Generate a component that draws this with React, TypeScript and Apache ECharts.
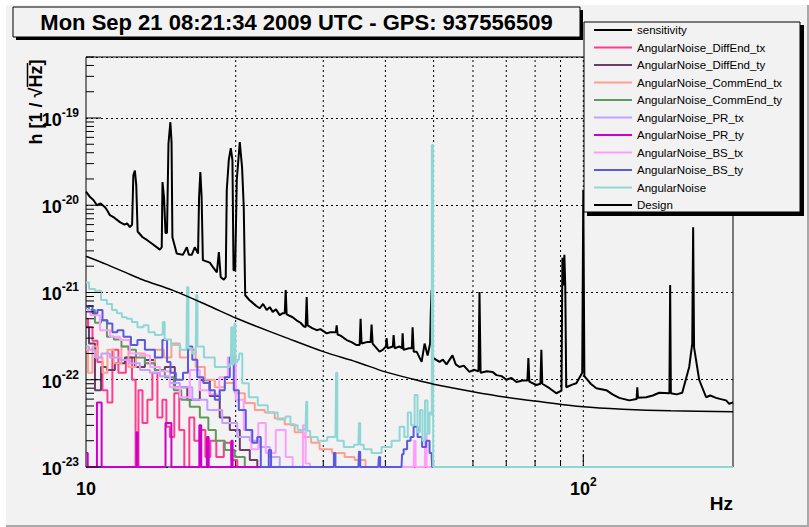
import React, { useEffect, useRef } from 'react';
import * as echarts from 'echarts';

const X_MIN = 10;
const X_MAX = 200;
const Y_MIN = 1e-23;
const Y_MAX = 5e-19;
// ECharts' log scale rounds below 1e-20, so values are plotted in units of 1e-23
const UNIT_EXP = -23;
const UNIT = 1e-23;

const TITLE = 'Mon Sep 21 08:21:34 2009 UTC - GPS: 937556509';
const Y_NAME = 'h [1 / √Hz]';
const X_NAME = 'Hz';

const xGridFreqs = [20, 30, 40, 50, 60, 70, 80, 90, 100];

// [frequency (Hz), strain (1/sqrt(Hz))]; 0 = empty bin
const sensitivity: [number, number][] = [
  [10.0, 1.43e-20], [10.19, 1.24e-20], [10.35, 1.15e-20], [10.52, 1.0e-20], [10.7, 1.05e-20], [10.92, 9.5e-21],
  [11.05, 8.6e-21], [11.17, 7.7e-21], [11.4, 7.2e-21], [11.7, 6.4e-21], [11.95, 6.0e-21], [12.1, 6.2e-21],
  [12.25, 5.6e-21], [12.38, 6.0e-21], [12.45, 2.2e-20], [12.54, 2.5e-20], [12.62, 1.7e-20], [12.7, 5.0e-21],
  [13.0, 4.3e-21], [13.26, 4.0e-21], [13.6, 3.6e-21], [14.08, 3.1e-21], [14.2, 3.3e-21], [14.25, 1.84e-20],
  [14.35, 1.24e-20], [14.45, 4.8e-21], [14.55, 4.8e-21], [14.65, 5.1e-20], [14.78, 8.95e-20], [14.86, 5.3e-20],
  [14.92, 4.3e-21], [15.22, 2.8e-21], [15.66, 2.7e-21], [15.95, 3.3e-21], [16.1, 2.7e-21], [16.32, 2.7e-21],
  [16.55, 3.3e-21], [16.8, 2.8e-21], [16.88, 1.24e-20], [16.98, 2.4e-20], [17.08, 1.24e-20], [17.18, 2.35e-21],
  [17.74, 2.2e-21], [18.0, 1.95e-21], [18.33, 1.7e-21], [18.5, 2.9e-21], [18.66, 1.5e-21], [18.93, 1.4e-21],
  [19.1, 1.5e-21], [19.19, 1.5e-20], [19.37, 3.3e-20], [19.55, 4.5e-20], [19.7, 3.3e-20], [19.8, 1.8e-21],
  [19.95, 1.8e-21], [20.1, 1.94e-20], [20.38, 5.3e-20], [20.6, 2.7e-20], [20.76, 9.5e-21], [20.9, 9.3e-22],
  [21.3, 8.2e-22], [21.65, 7.6e-22], [22.0, 7.0e-22], [22.36, 6.6e-22], [22.7, 7.4e-22], [23.09, 6.3e-22],
  [23.42, 6.8e-22], [23.74, 6.0e-22], [24.1, 6.4e-22], [24.52, 5.5e-22], [24.87, 5.8e-22], [25.1, 5.8e-22],
  [25.21, 1.07e-21], [25.32, 5.6e-22], [26.04, 5.2e-22], [26.5, 4.8e-22], [27.0, 4.5e-22], [27.4, 4.1e-22],
  [27.65, 4.0e-22], [27.78, 8.9e-22], [27.9, 4.2e-22], [28.5, 3.9e-22], [29.1, 3.7e-22], [29.6, 3.8e-22],
  [30.48, 3.4e-22], [31.0, 3.5e-22], [31.8, 3.5e-22], [31.92, 4.2e-22], [32.05, 3.3e-22], [32.5, 3.2e-22],
  [33.43, 2.85e-22], [34.2, 2.7e-22], [35.0, 2.5e-22], [35.5, 2.5e-22], [35.66, 5.0e-22], [35.82, 2.6e-22],
  [36.7, 2.7e-22], [37.35, 2.7e-22], [37.52, 4.3e-22], [37.7, 2.6e-22], [38.93, 2.1e-22], [39.5, 2.2e-22],
  [40.1, 2.4e-22], [40.22, 3.0e-22], [40.4, 2.3e-22], [41.4, 2.4e-22], [41.55, 3.25e-22], [41.75, 2.3e-22],
  [42.7, 2.4e-22], [43.2, 2.3e-22], [43.32, 3.4e-22], [43.5, 2.2e-22], [44.6, 2.3e-22], [45.2, 2.3e-22],
  [45.37, 4.0e-22], [45.6, 2.1e-22], [46.22, 2.1e-22], [47.3, 1.6e-22], [47.96, 2.6e-22], [48.63, 1.9e-22],
  [49.2, 2.6e-22], [49.35, 5.8e-22], [49.53, 1.06e-21], [49.7, 1.8e-22], [51.39, 1.6e-22], [52.2, 1.7e-22],
  [53.08, 1.5e-22], [54.57, 1.9e-22], [55.4, 1.5e-22], [56.36, 1.4e-22], [57.5, 1.45e-22], [59.03, 1.23e-22],
  [60.2, 1.3e-22], [61.55, 1.25e-22], [61.84, 1.01e-21], [62.15, 1.2e-22], [64.0, 1.25e-22], [65.67, 1.23e-22],
  [66.89, 1.13e-22], [68.5, 1.1e-22], [70.05, 1.0e-22], [71.7, 1.05e-22], [73.37, 9.4e-23], [75.5, 9.8e-23],
  [77.2, 9.8e-23], [77.55, 1.77e-22], [77.9, 9.5e-23], [80.47, 8.7e-23], [82.0, 9.0e-23], [82.35, 2.2e-22],
  [82.7, 9.0e-23], [85.5, 8.0e-23], [88.27, 7.0e-23], [90.4, 7.5e-23], [90.77, 2.5e-21], [91.2, 1.2e-21],
  [91.61, 2.7e-21], [92.0, 1.15e-21], [92.4, 8.2e-23], [95.0, 8.8e-23], [96.83, 9.1e-23], [99.5, 1.2e-22],
  [100.0, 1.5e-20], [100.5, 1.1e-22], [103.5, 9.0e-23], [106.2, 8.0e-23], [111.2, 7.6e-23], [114.5, 6.8e-23],
  [118.1, 6.2e-23], [123.7, 5.8e-23], [128.0, 6.0e-23], [128.4, 8.2e-23], [128.8, 6.2e-23], [133.8, 6.3e-23],
  [138.0, 6.6e-23], [142.1, 7.1e-23], [149.0, 7.0e-23], [149.5, 1.22e-21], [150.0, 7.0e-23], [154.0, 6.8e-23],
  [158.1, 7.1e-23], [163.3, 1.4e-22], [165.6, 2.6e-22], [166.3, 5.6e-21], [167.0, 2.35e-22], [171.0, 1.0e-22],
  [176.6, 6.3e-23], [180.0, 6.6e-23], [184.9, 6.2e-23], [189.0, 6.0e-23], [193.7, 5.8e-23], [196.5, 5.3e-23],
  [200.0, 5.5e-23],
];

const diffEndTx: [number, number][] = [
  [10.0, 5.0e-22], [10.19, 4.0e-22], [10.42, 2.8e-22], [10.67, 1.6e-22], [10.92, 7.6e-23], [11.17, 5.5e-23],
  [11.43, 2.2e-22], [11.81, 1.2e-22], [12.25, 1.8e-22], [12.5, 1.0e-22], [12.66, 0], [12.84, 7.6e-23],
  [13.14, 3.2e-23], [13.44, 5.9e-23], [13.76, 1.2e-22], [14.08, 3.7e-23], [14.41, 5.9e-23], [14.61, 2.9e-23],
  [14.88, 2.2e-23], [15.22, 7.0e-23], [15.58, 2.65e-23], [15.95, 0], [16.32, 3.7e-23], [16.7, 2.0e-23],
  [17.18, 2.65e-23], [17.58, 1.3e-23], [17.99, 2.0e-23], [18.58, 1.3e-23], [19.28, 1.9e-23], [19.92, 1.2e-23],
  [20.38, 0], [200.0, 0],
];

const diffEndTy: [number, number][] = [
  [10.0, 4.0e-22], [10.28, 2.6e-22], [10.57, 7.6e-23], [10.87, 1.4e-22], [11.17, 1.29e-22], [11.7, 1.55e-22],
  [12.25, 1.8e-22], [12.84, 1.4e-22], [13.44, 1.68e-22], [14.08, 1.29e-22], [14.74, 1.4e-22], [15.44, 8.2e-23],
  [16.55, 5.9e-23], [17.34, 9.9e-23], [18.15, 6.5e-23], [19.01, 3.7e-23], [19.92, 2.65e-23], [20.86, 1.57e-23],
  [21.85, 1.2e-23], [22.36, 0], [200.0, 0],
];

const commEndTx: [number, number][] = [
  [10.0, 2.2e-22], [10.19, 1.2e-22], [10.42, 2.4e-22], [10.67, 1.8e-22], [10.92, 1.2e-22], [11.17, 2.2e-22],
  [11.59, 1.55e-22], [11.98, 2.4e-22], [12.37, 1.4e-22], [12.84, 2.0e-22], [13.44, 1.55e-22], [14.08, 2.2e-22],
  [14.61, 1.8e-22], [15.09, 2.6e-22], [15.8, 1.8e-22], [16.3, 2.2e-22], [16.94, 1.4e-22], [17.74, 1.0e-22],
  [18.58, 8.2e-23], [19.46, 9.2e-23], [20.38, 7.0e-23], [21.35, 5.4e-23], [22.36, 4.5e-23], [23.42, 4.2e-23],
  [24.52, 3.6e-23], [25.68, 3.1e-23], [26.89, 2.5e-23], [27.9, 2.2e-23], [28.83, 1.9e-23], [30.19, 1.6e-23],
  [32.36, 1.45e-23], [33.9, 1.3e-23], [35.49, 1.2e-23], [37.5, 0], [200.0, 0],
];

const commEndTy: [number, number][] = [
  [10.0, 6.8e-22], [10.28, 6.3e-22], [10.57, 4.5e-22], [10.87, 4.8e-22], [11.17, 3.1e-22], [11.59, 2.9e-22],
  [11.98, 2.4e-22], [12.37, 2.2e-22], [12.84, 1.8e-22], [13.44, 1.55e-22], [14.08, 1.29e-22], [14.74, 1.07e-22],
  [15.3, 7.6e-23], [15.8, 5.9e-23], [16.55, 4.9e-23], [17.34, 3.7e-23], [17.91, 2.65e-23], [18.58, 2.0e-23],
  [19.46, 1.57e-23], [20.38, 1.3e-23], [21.35, 0], [200.0, 0],
];

const prTx: [number, number][] = [
  [10.0, 2.4e-22], [10.28, 2.2e-22], [10.57, 1.8e-22], [10.92, 2.0e-22], [11.43, 1.8e-22], [11.98, 1.68e-22],
  [12.54, 1.55e-22], [13.14, 1.29e-22], [13.76, 1.2e-22], [14.41, 1.1e-22], [15.09, 9.2e-23], [15.8, 8.2e-23],
  [16.94, 5.9e-23], [18.15, 4.5e-23], [19.46, 3.2e-23], [20.86, 2.2e-23], [21.85, 2.0e-23], [22.88, 1.7e-23],
  [23.96, 1.3e-23], [25.1, 0], [200.0, 0],
];

// each value holds until the next frequency
const prTy: [number, number][] = [
  [10.0, 1.45e-23], [10.08, 0], [10.52, 5.5e-23], [10.75, 0], [12.64, 2.5e-23], [12.7, 0], [14.45, 3.2e-23],
  [14.85, 0], [16.9, 3.0e-23], [17.05, 0], [17.5, 2.2e-23], [17.65, 0], [19.6, 2.0e-23], [19.72, 0], [200.0, 0],
];

const bsTx: [number, number][] = [
  [10.0, 6.3e-22], [10.42, 5.5e-22], [10.92, 3.7e-22], [11.43, 3.1e-22], [11.98, 2.85e-22], [12.54, 2.0e-22],
  [13.14, 1.9e-22], [13.76, 1.4e-22], [14.41, 1.25e-22], [15.09, 8.2e-23], [15.8, 6.3e-23], [16.55, 1.29e-22],
  [17.34, 7.6e-23], [18.15, 6.8e-23], [18.93, 1.07e-22], [19.64, 1.8e-22], [20.38, 5.9e-23], [21.15, 2.65e-23],
  [21.85, 1.6e-23], [22.57, 3.2e-23], [23.42, 1.45e-23], [24.75, 2.65e-23], [25.68, 1.3e-23], [26.4, 0],
  [27.2, 0], [27.4, 3.0e-23], [27.9, 1.1e-23], [28.5, 0], [45.6, 0], [45.8, 2.0e-23], [46.2, 0], [48.0, 0],
  [48.2, 2.4e-23], [48.6, 0], [200.0, 0],
];

const bsTy: [number, number][] = [
  [10.0, 6.8e-22], [10.19, 7.0e-22], [10.42, 5.8e-22], [10.67, 6.3e-22], [10.92, 4.8e-22], [11.17, 4.4e-22],
  [11.43, 3.5e-22], [11.7, 3.7e-22], [12.09, 3.1e-22], [12.54, 2.5e-22], [12.84, 2.85e-22], [13.44, 2.2e-22],
  [14.08, 1.8e-22], [14.41, 2.85e-22], [14.7, 1.6e-22], [14.88, 1.2e-22], [15.44, 1.0e-22], [15.9, 1.2e-22],
  [16.17, 2.4e-22], [16.55, 1.7e-22], [16.94, 1.07e-22], [17.5, 9.2e-23], [17.91, 7.6e-23], [18.41, 5.9e-23],
  [18.75, 7.6e-23], [19.28, 1.07e-22], [19.64, 1.8e-22], [20.01, 7.6e-23], [20.57, 4.5e-23], [21.35, 2.65e-23],
  [21.85, 1.9e-23], [22.36, 2.2e-23], [22.57, 0], [23.2, 0], [23.42, 1.57e-23], [23.7, 0], [31.4, 0],
  [31.62, 1.45e-23], [31.85, 0], [35.3, 0], [35.49, 1.5e-23], [35.7, 0], [38.7, 0], [38.93, 1.3e-23], [39.15, 0],
  [43.1, 0], [43.32, 1.4e-23], [43.72, 1.6e-23], [44.74, 2.0e-23], [45.16, 2.2e-23], [46.0, 2.9e-23],
  [46.86, 2.2e-23], [47.96, 1.7e-23], [48.63, 2.0e-23], [49.53, 1.45e-23], [49.8, 0], [200.0, 0],
];

const angularNoise: [number, number][] = [
  [10.0, 1.3e-21], [10.28, 1.1e-21], [10.57, 1.05e-21], [10.87, 8.2e-22], [11.17, 7.4e-22], [11.38, 6.3e-22],
  [11.7, 5.8e-22], [11.92, 5.2e-22], [12.25, 5.0e-22], [12.48, 4.6e-22], [12.9, 4.0e-22], [13.2, 4.2e-22],
  [13.51, 3.5e-22], [14.01, 3.25e-22], [14.2, 3.3e-22], [14.34, 4.6e-22], [14.45, 2.9e-22], [15.22, 2.5e-22],
  [15.73, 2.2e-22], [15.92, 2.2e-22], [16.02, 1.15e-21], [16.12, 2.3e-22], [16.55, 2.0e-22], [16.62, 2.0e-22],
  [16.7, 9.3e-22], [16.8, 2.4e-22], [17.74, 1.8e-22], [18.58, 1.4e-22], [19.3, 1.4e-22], [19.55, 1.5e-22],
  [19.64, 4.0e-22], [19.75, 1.5e-22], [19.85, 1.6e-22], [19.92, 4.4e-22], [20.02, 1.6e-22], [20.3, 1.7e-22],
  [20.38, 2.0e-22], [20.86, 9.1e-23], [21.65, 6.3e-23], [22.67, 5.1e-23], [23.74, 4.2e-23], [24.87, 3.5e-23],
  [25.5, 3.8e-23], [26.04, 3.0e-23], [27.27, 2.65e-23], [27.65, 2.7e-23], [27.78, 5.6e-23], [27.92, 2.6e-23],
  [28.56, 2.2e-23], [29.92, 2.0e-23], [31.2, 2.2e-23], [31.75, 2.2e-23], [31.92, 1.2e-22], [32.1, 2.0e-23],
  [33.9, 1.7e-23], [35.3, 1.8e-23], [35.49, 3.2e-23], [35.7, 1.8e-23], [36.66, 1.6e-23], [38.4, 1.45e-23],
  [40.22, 1.7e-23], [42.13, 2.0e-23], [43.32, 2.9e-23], [44.0, 2.2e-23], [44.74, 4.2e-23], [45.37, 3.0e-23],
  [46.22, 6.7e-23], [46.6, 2.5e-23], [47.3, 4.5e-23], [47.7, 2.0e-23], [48.4, 5.8e-23], [48.8, 2.4e-23],
  [49.3, 4.2e-23], [49.55, 4.0e-23], [49.65, 4.9e-20], [49.85, 4.9e-20], [49.95, 0], [200.0, 0],
];

const design: [number, number][] = [
  [10, 2.6e-21], [11, 2.1e-21], [12, 1.7e-21], [13, 1.4e-21], [15, 1.05e-21], [17.5, 7.2e-22], [20, 5.1e-22],
  [22, 4.1e-22], [25, 3.1e-22], [30, 2.1e-22], [35, 1.6e-22], [40, 1.23e-22], [45, 1.03e-22], [50, 8.9e-23],
  [60, 7.3e-23], [70, 6.3e-23], [80, 5.7e-23], [100, 4.9e-23], [120, 4.6e-23], [150, 4.4e-23], [200, 4.3e-23],
];

const seriesNames = [
  'sensitivity', 'AngularNoise_DiffEnd_tx', 'AngularNoise_DiffEnd_ty', 'AngularNoise_CommEnd_tx',
  'AngularNoise_CommEnd_ty', 'AngularNoise_PR_tx', 'AngularNoise_PR_ty', 'AngularNoise_BS_tx',
  'AngularNoise_BS_ty', 'AngularNoise', 'Design',
];
const seriesColors = [
  '#000000', '#ff3d8f', '#6b3b6b', '#ff9e90', '#5e9a5e', '#c2a0ff', '#cc00cc', '#ff9cff', '#5a5ae0', '#8fd6d6', '#000000',
];
const seriesSteps = [
  false, 'middle', 'middle', 'middle', 'middle', 'middle', 'end', 'middle', 'middle', 'middle', false,
];
const seriesData = [
  sensitivity, diffEndTx, diffEndTy, commEndTx, commEndTy, prTx, prTy, bsTx, bsTy, angularNoise, design,
];

const FONT = '"Liberation Sans", Arial, Helvetica, sans-serif';

const toUnits = (v: number) => v / UNIT;
const PY_MIN = toUnits(Y_MIN);
const PY_MAX = toUnits(Y_MAX);

function scaled(d: [number, number][]) {
  return d.map(([f, v]) => [f, v > 0 ? toUnits(v) : PY_MIN]);
}

function isDecade(v: number) {
  const e = Math.log10(v);
  return Math.abs(e - Math.round(e)) < 1e-6;
}

export default function App() {
  const ref = useRef<HTMLDivElement>(null);
  useEffect(() => {
    const chart = echarts.init(ref.current!, null, { renderer: 'svg' });

    const yTicks: number[][] = [];
    for (let d = 0; d <= 4; d++) {
      for (let m = 1; m <= 9; m++) {
        const v = m * Math.pow(10, d);
        if (v <= PY_MAX * 1.0001) yTicks.push([X_MIN, v]);
      }
    }

    const lineSeries = seriesNames.map((name, i) => {
      const isDesign = name === 'Design';
      return {
        name,
        type: 'line',
        data: scaled(seriesData[i]),
        showSymbol: false,
        symbol: 'none',
        step: seriesSteps[i] || undefined,
        smooth: isDesign ? 0.3 : false,
        silent: true,
        z: 3,
        lineStyle: { color: seriesColors[i], width: isDesign ? 1.5 : 2 },
        itemStyle: { color: seriesColors[i] },
      };
    });

    const richLabel = {
      b: { fontSize: 18, fontWeight: 'bold', fontFamily: FONT, color: '#000', lineHeight: 22, verticalAlign: 'bottom' },
      s: { fontSize: 12, fontWeight: 'bold', fontFamily: FONT, color: '#000', lineHeight: 22, verticalAlign: 'top' },
    };

    const option: any = {
      animation: false,
      backgroundColor: '#ffffff',
      grid: {
        left: 86, right: 76, top: 57, bottom: 60,
        show: true, borderColor: '#000', borderWidth: 1, backgroundColor: 'transparent',
      },
      xAxis: {
        type: 'log', logBase: 10, min: X_MIN, max: X_MAX,
        axisLine: { show: false }, axisTick: { show: false }, splitLine: { show: false },
        axisLabel: {
          margin: 9,
          formatter: (v: number) => {
            const e = Math.log10(v);
            if (Math.abs(e - 1) < 1e-6) return '{b|10}';
            if (Math.abs(e - 2) < 1e-6) return '{b|10}{s|2}';
            return '';
          },
          rich: richLabel,
        },
      },
      yAxis: {
        type: 'log', logBase: 10, min: PY_MIN, max: PY_MAX,
        axisLine: { show: false }, axisTick: { show: false },
        splitLine: { show: true, lineStyle: { color: '#000', width: 1, type: [2, 3] } },
        axisLabel: {
          margin: 7,
          formatter: (v: number) => {
            if (!isDecade(v)) return '';
            const e = Math.round(Math.log10(v)) + UNIT_EXP;
            return '{b|10}{s|' + e + '}';
          },
          rich: richLabel,
        },
      },
      legend: {
        data: seriesNames,
        orient: 'vertical',
        left: 594, top: 23,
        padding: 0,
        itemWidth: 38, itemHeight: 2, itemGap: 3.5, itemTextGap: 8,
        icon: 'rect',
        selectedMode: false,
        z: 20,
        textStyle: { fontSize: 11.5, fontFamily: FONT, color: '#000', lineHeight: 14 },
      },
      graphic: [
        { type: 'rect', z: -10, silent: true, shape: { x: 6, y: 5, width: 801, height: 520 }, style: { fill: '#f2f2f2' } },
        { type: 'line', z: -9, silent: true, shape: { x1: 6, y1: 526, x2: 809, y2: 526 }, style: { stroke: '#a9a9a9', lineWidth: 2 } },
        { type: 'line', z: -9, silent: true, shape: { x1: 808, y1: 5, x2: 808, y2: 527 }, style: { stroke: '#a9a9a9', lineWidth: 2 } },
        { type: 'rect', z: 10, silent: true, shape: { x: 16, y: 10, width: 567, height: 30 }, style: { fill: '#000' } },
        { type: 'rect', z: 11, silent: true, shape: { x: 13, y: 7, width: 567, height: 30 }, style: { fill: '#f2f2f2', stroke: '#000', lineWidth: 1 } },
        {
          type: 'text', z: 12, silent: true, x: 296.5, y: 22.5,
          style: { text: TITLE, font: 'bold 22px ' + FONT, fill: '#000', textAlign: 'center', textVerticalAlign: 'middle' },
        },
        { type: 'rect', z: 18, silent: true, shape: { x: 587, y: 25, width: 217, height: 191 }, style: { fill: '#000' } },
        { type: 'rect', z: 19, silent: true, shape: { x: 584, y: 22, width: 216, height: 190 }, style: { fill: '#f2f2f2', stroke: '#000', lineWidth: 1 } },
        {
          type: 'text', z: 12, silent: true, x: 36, y: 102, rotation: Math.PI / 2,
          style: { text: Y_NAME, font: 'bold 18px ' + FONT, fill: '#000', textAlign: 'center', textVerticalAlign: 'middle' },
        },
        { type: 'line', z: 12, silent: true, shape: { x1: 27.5, y1: 63, x2: 27.5, y2: 87 }, style: { stroke: '#000', lineWidth: 1.5 } },
        {
          type: 'text', z: 12, silent: true, x: 733, y: 503,
          style: { text: X_NAME, font: 'bold 19px ' + FONT, fill: '#000', textAlign: 'right', textVerticalAlign: 'middle' },
        },
      ],
      series: [
        {
          type: 'custom', name: 'xgrid', silent: true, z: 1,
          data: xGridFreqs.map((f) => [f, PY_MIN]),
          renderItem: (params: any, api: any) => {
            const f = api.value(0);
            const b = api.coord([f, PY_MIN]);
            const t = api.coord([f, PY_MAX]);
            const tick = Math.abs(f - 100) < 1e-6 ? 13 : 7;
            return {
              type: 'group',
              children: [
                { type: 'line', shape: { x1: b[0], y1: b[1], x2: t[0], y2: t[1] }, style: { stroke: '#000', lineWidth: 1, lineDash: [2, 3] } },
                { type: 'line', shape: { x1: b[0], y1: b[1], x2: b[0], y2: b[1] - tick }, style: { stroke: '#000', lineWidth: 1 } },
              ],
            };
          },
        },
        {
          type: 'custom', name: 'yticks', silent: true, z: 4,
          data: yTicks,
          renderItem: (params: any, api: any) => {
            const v = api.value(1);
            const p = api.coord([X_MIN, v]);
            const len = isDecade(v) ? 15 : 8;
            return { type: 'line', shape: { x1: p[0], y1: p[1], x2: p[0] + len, y2: p[1] }, style: { stroke: '#000', lineWidth: 1 } };
          },
        },
        ...lineSeries,
      ],
    };

    chart.setOption(option);
    return () => chart.dispose();
  }, []);

  return <div ref={ref} style={{ position: 'absolute', left: 0, top: 0, width: 809, height: 527 }} />;
}
